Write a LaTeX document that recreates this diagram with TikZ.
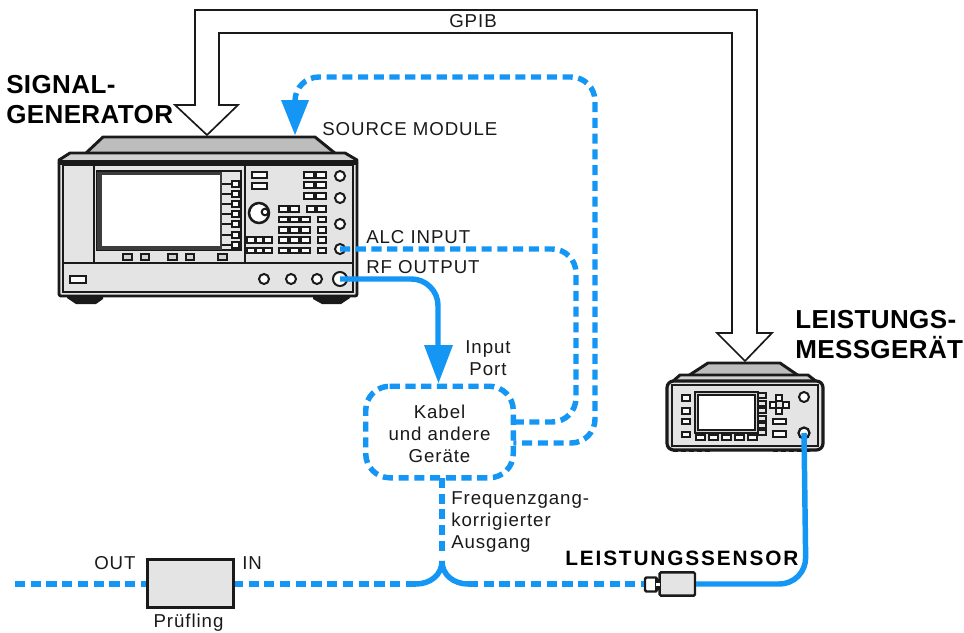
\documentclass[tikz,border=0pt]{standalone}
\usepackage{fontspec}
\setmainfont{Liberation Sans}
\definecolor{wire}{HTML}{1496F5}
\definecolor{caseg}{HTML}{E4E4E4}
\definecolor{topg}{HTML}{BDBDBD}
\definecolor{slabg}{HTML}{D2D2D2}
\definecolor{ink}{HTML}{1A1A1A}
\newfontfamily\lblfont[LetterSpace=5]{Liberation Sans}
\newfontfamily\headfont[LetterSpace=1.5]{Liberation Sans Bold}
\newfontfamily\sensfont[LetterSpace=9]{Liberation Sans Bold}
\tikzset{
  x=0.75pt,y=-0.75pt,
  wiredash/.style={draw=wire,line width=4.1pt,dash pattern=on 7.6pt off 4.2pt,rounded corners=18pt},
  wiresolid/.style={draw=wire,line width=4.1pt,rounded corners=20pt},
  wirearc/.style={draw=wire,line width=4.1pt},
  wirehead/.style={fill=wire,draw=none},
  hollow/.style={draw=ink,fill=white,line width=1.25pt,line join=miter},
  case/.style={draw=ink,line width=2.2pt,fill=caseg,line join=round},
  panel/.style={draw=ink,line width=1pt,fill=caseg},
  btn/.style={draw=ink,line width=1.35pt,fill=white!85!caseg},
  knob/.style={draw=ink,line width=1.5pt,fill=white},
  lbl/.style={inner sep=0pt,font=\lblfont\fontsize{14pt}{16.5pt}\selectfont,text=ink},
  txt/.style={inner sep=0pt,font=\lblfont\fontsize{14pt}{16.5pt}\selectfont,text=ink,align=left},
  head/.style={inner sep=0pt,font=\headfont\fontsize{19.5pt}{22.5pt}\selectfont,text=black,align=left},
  sens/.style={inner sep=0pt,font=\sensfont\fontsize{15.6pt}{18pt}\selectfont,text=black}
}
\begin{document}
\begin{tikzpicture}
\useasboundingbox[fill=white] (0,0) rectangle (964,632);

% ---------- GPIB hollow double arrow
\draw[hollow] (207,135) -- (175,105) -- (195,105) -- (195,10) -- (757,10) -- (757,333)
  -- (772,333) -- (745,361) -- (717,333) -- (732,333) -- (732,33) -- (219,33) -- (219,105)
  -- (238,105) -- cycle;
\node[lbl,anchor=base] (gpib) at (473,27) {GPIB};

% ---------- Signal generator
\fill[ink] (67,293) -- (103,293) -- (103,299) -- (96,304) -- (76,304) -- (67,298) -- cycle;
\fill[ink] (313,293) -- (350,293) -- (350,298) -- (341,304) -- (322,304) -- (313,299) -- cycle;
\draw[case,fill=topg] (85,154) -- (103,137) -- (315,137) -- (336,154) -- cycle;
\draw[case,fill=slabg] (59,163) -- (59,160) -- (70,153) -- (345,153) -- (357,160) -- (357,163) -- cycle;
\draw[case,rounded corners=1.5pt] (59,162) rectangle (357,296);
\fill[ink] (60,160) rectangle (356,165);
\draw[panel] (63,165) rectangle (353,292);
\draw[panel] (63,165) rectangle (94,263);
\draw[panel] (94,165) rectangle (245,263);
\draw[panel] (245,165) rectangle (353,263);
\draw[panel] (63,263) rectangle (353,292);
% display
\draw[draw=ink,line width=1pt,fill=caseg] (97,171) -- (241,171) -- (241,250) -- (97,250) -- cycle;
\fill[ink!85] (97,172) rectangle (222,250);
\fill[white] (102,175) rectangle (220,246);
\foreach \yy in {181,191,201,211,221,232,242}{
  \draw[ink,line width=1pt] (222,\yy+3) -- (232,\yy+3);
  \draw[btn,line width=1.1pt] (232,\yy) rectangle (239,\yy+6);
}
\foreach \xa/\xb in {123/132,141/149,168/177,186/194,218/227}
  \draw[btn,fill=slabg] (\xa,254) rectangle (\xb,260);
% keypad
\foreach \xa/\ya/\xb/\yb in {252/172/267/178,252/183/267/189,
   304/172/314/178,316/172/326/178,304/182/314/188,316/182/326/188,304/193/314/199,316/193/326/199,
   279/206/288/212,290/206/299/212,307/206/315/212,317/206/326/212,
   279/217/288/222,290/217/299/222,301/217/310/222,318/217/326/222,
   279/227/288/233,290/227/299/233,301/227/310/233,318/227/326/233,
   279/237/288/243,290/237/299/243,301/237/310/243,318/237/326/243,
   279/248/288/253,290/248/299/253,301/248/310/253,318/248/326/253,
   247/237/255/243,256/237/263/243,264/237/272/243,
   247/248/255/253,256/248/263/253,264/248/272/253}
  \draw[btn] (\xa,\ya) rectangle (\xb,\yb);
\draw[knob,line width=1.9pt] (259,213) circle[radius=10];
\draw[knob] (265,212) circle[radius=3.3];
\foreach \yy in {176,198,224}
  \draw[knob] (340,\yy) circle[radius=5];
\foreach \xx in {264,291,317}
  \draw[knob] (\xx,279) circle[radius=5];
\draw[knob] (340,249) circle[radius=5] coordinate (alcport);
\draw[knob] (340,279) circle[radius=7] coordinate (rfport);
\draw[btn,line width=1.4pt] (70,276) rectangle (86,283);

% ---------- Power meter
\foreach \xa in {673,681,689,697,705,773,781,789,797,805}
  \draw[ink,line width=1.6pt] (\xa,451) -- (\xa+5,451);
\draw[case,fill=topg] (688,376) -- (708,363) -- (780,363) -- (799,376) -- cycle;
\draw[case,fill=slabg] (672,382) -- (680,375) -- (808,375) -- (817,382) -- cycle;
\draw[case,rounded corners=5pt,line width=2.4pt] (667,381) rectangle (823,450);
\draw[panel] (672,385) rectangle (818,446);
\draw[draw=ink,line width=1.4pt,fill=slabg] (695,392) rectangle (758,433);
\draw[draw=ink,line width=1pt,fill=white] (698,395) rectangle (755,430);
\foreach \ya in {393,401,408,416,423,430}
  \draw[btn,fill=caseg] (758,\ya) rectangle (766,\ya+5);
\foreach \xa in {696,709,722,735,748}
  \draw[btn] (\xa,435) rectangle (\xa+9,440);
\foreach \ya/\yb in {395/401,408/414,419/424,432/437}
  \draw[btn] (682,\ya) rectangle (690,\yb);
\foreach \xa/\ya in {776/395,770/402,783/402,776/408}
  \draw[btn] (\xa,\ya) rectangle (\xa+6,\ya+6);
\draw[btn] (773,419) rectangle (786,424);
\draw[btn] (773,431) rectangle (786,437);
\draw[knob] (804,397) circle[radius=5];
\draw[knob,line width=1.7pt] (804,433) circle[radius=5.5] coordinate (meterport);

% ---------- Devices on the wires
\node[minimum width=110.25pt,minimum height=68.25pt,inner sep=0pt,rectangle] (kabel) at (439.5,432) {};
\node[draw=ink,line width=2.2pt,fill=caseg,minimum width=64.5pt,minimum height=35.5pt,inner sep=0pt,
      anchor=center] (pruefling) at (190.8,583.5) {};
\node[draw=ink,line width=1.8pt,fill=caseg,rounded corners=1pt,minimum width=26.5pt,minimum height=17.5pt,inner sep=0pt,
      anchor=center] (sensor) at (677.3,584) {};
\node[draw=ink,line width=1.8pt,fill=white,rounded corners=1pt,minimum width=9pt,minimum height=10.5pt,inner sep=0pt,
      anchor=center] (sensortip) at (651,584.5) {};
\fill[ink] (655,579) rectangle (660,590);
\fill[white] (656,583) rectangle (660,586);

% ---------- Wires
\coordinate (wirel) at (15,584);
\coordinate (arcl) at (416,584);
\coordinate (arcr) at (468,584);
\coordinate (cusp) at (442,561);
\draw[wiredash] (kabel.north west) -- (kabel.north east) -- (kabel.south east)
  -- (kabel.south west) -- cycle;
\draw[wiredash] (295,103) -- (295,77) -- (595,77) -- (595,443) -- (kabel.east |- 0,443);
\draw[wiredash] (alcport) -- (576,249) -- (576,422) -- (kabel.east |- 0,422);
\draw[wiresolid] (rfport) -- (438,279) -- (438,346);
\fill[wirehead] (424,345) -- (453,345) -- (438.5,383) -- cycle;
\fill[wirehead] (281,100) -- (309,100) -- (295,135) -- cycle;
\draw[wiredash,rounded corners=0pt] (kabel.south -| cusp) -- (442,554);
\draw[wirearc] (arcl) .. controls (430,584) and (442,575) .. (cusp);
\draw[wirearc] (arcr) .. controls (454,584) and (442,575) .. (cusp);
\draw[wiredash,rounded corners=0pt] (arcr) -- (sensortip.west |- arcr);
\draw[wiredash,rounded corners=0pt] (arcl) -- (pruefling.east |- arcl);
\draw[wiredash,rounded corners=0pt] (wirel) -- (pruefling.west |- wirel);
\draw[wiresolid] (sensor.east |- 0,584) -- (806,584) -- (meterport);

% ---------- Text
\node[head,anchor=north west] (sg) at (6,75.5) {SIGNAL-\\GENERATOR};
\node[head,anchor=north west] (lm) at (795,310.5) {LEISTUNGS-\\MESSGERÄT};
\node[sens,anchor=base west] (ls) at (565,565) {LEISTUNGSSENSOR};
\node[lbl,anchor=base west] (sm) at (322,135) {SOURCE MODULE};
\node[lbl,anchor=base west] (alc) at (366,243) {ALC INPUT};
\node[lbl,anchor=base west] (rf) at (366,273) {RF OUTPUT};
\node[txt,align=center,anchor=center] (ip) at (488,358) {Input\\Port};
\node[txt,align=center] (kt) at (439.5,434) {Kabel\\und andere\\Geräte};
\node[txt,anchor=west] (fk) at (451,522) {Frequenzgang-\\korrigierter\\Ausgang};
\node[lbl,anchor=base west] (out) at (94,569) {OUT};
\node[lbl,anchor=base west] (in) at (242,569) {IN};
\node[lbl,anchor=base] (pl) at (188.5,627) {Prüfling};
\end{tikzpicture}
\end{document}
